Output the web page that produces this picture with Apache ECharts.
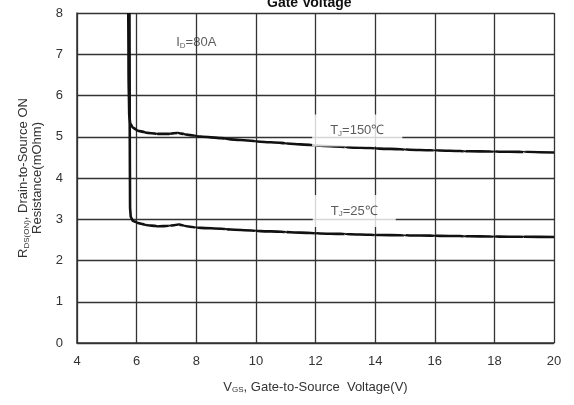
<!DOCTYPE html>
<html>
<head>
<meta charset="utf-8">
<script src="https://cdn.jsdelivr.net/npm/echarts@6/dist/echarts.min.js"></script>
<style>
  html, body { margin: 0; padding: 0; background: #fff; }
  #chart { width: 574px; height: 405px; }
</style>
</head>
<body>
<div id="chart"></div>
<script>
// Rds(on) vs Vgs, two junction temperatures
const vgs150 = [5.72, 5.73, 5.75, 5.78, 5.85, 6.0, 6.3, 6.7, 7.1, 7.4, 7.6, 8, 9, 10, 11, 12, 13, 14, 15, 16, 17, 18, 19, 20];
const rds150 = [8.0, 6.5, 5.55, 5.34, 5.24, 5.16, 5.1, 5.07, 5.07, 5.09, 5.06, 5.02, 4.95, 4.89, 4.84, 4.79, 4.75, 4.72, 4.69, 4.67, 4.65, 4.64, 4.63, 4.62];

const vgs25 = [5.76, 5.77, 5.78, 5.8, 5.86, 6.0, 6.3, 6.7, 7.1, 7.4, 7.6, 8, 9, 10, 11, 12, 13, 14, 15, 16, 17, 18, 19, 20];
const rds25 = [8.0, 5.0, 3.3, 3.07, 2.97, 2.92, 2.86, 2.83, 2.84, 2.87, 2.84, 2.8, 2.76, 2.72, 2.69, 2.66, 2.64, 2.62, 2.61, 2.6, 2.59, 2.58, 2.575, 2.57];

const xTicks = { min: 4, max: 20, step: 2 };
const yTicks = { min: 0, max: 8, step: 1 };

// annotation anchors in data units
const notes = [
  { txt: 'I{sub|D}=80A', at: [8.0, 7.28], boxed: false },
  { txt: 'T{sub|J}=150℃', at: [13.4, 5.15], boxed: true },
  { txt: 'T{sub|J}=25℃', at: [13.3, 3.2], boxed: true }
];

const FONT = '"Liberation Sans", Arial, sans-serif';
const rich = { sub: { fontSize: 8, verticalAlign: 'bottom', padding: [6, 0, 0, 0], color: '#333', fontFamily: FONT } };

const pairs = (xs, ys) => xs.map((x, i) => [x, ys[i]]);

const chart = echarts.init(document.getElementById('chart'), null, { renderer: 'canvas' });
chart.setOption({
  backgroundColor: '#fff',
  animation: false,
  title: {
    text: 'Gate Voltage', left: 262, top: -9,
    textStyle: { fontFamily: FONT, fontSize: 14, fontWeight: 'bold', color: '#111' }
  },
  grid: { left: 77, right: 20, top: 13, bottom: 62 },
  xAxis: {
    type: 'value', min: xTicks.min, max: xTicks.max, interval: xTicks.step,
    name: 'V{sub|GS}, Gate-to-Source  Voltage(V)', nameLocation: 'middle', nameGap: 37,
    nameTextStyle: { fontFamily: FONT, fontSize: 13, color: '#333', rich: rich },
    axisLine: { lineStyle: { color: '#333', width: 1.5 } },
    axisTick: { show: false },
    axisLabel: { fontFamily: FONT, fontSize: 13, color: '#333', margin: 12 },
    splitLine: { show: true, lineStyle: { color: '#333', width: 1.3 } }
  },
  yAxis: {
    type: 'value', min: yTicks.min, max: yTicks.max, interval: yTicks.step,
    name: 'R{sub|DS(ON)}, Drain-to-Source ON\nResistance(mOhm)', nameLocation: 'middle', nameGap: 27, nameRotate: 90,
    nameTextStyle: { fontFamily: FONT, fontSize: 13, color: '#333', lineHeight: 14, rich: rich },
    axisLine: { show: true, lineStyle: { color: '#333', width: 1.5 } },
    axisTick: { show: false },
    axisLabel: { fontFamily: FONT, fontSize: 13, color: '#333', margin: 14 },
    splitLine: { show: true, lineStyle: { color: '#333', width: 1.3 } }
  },
  series: [
    {
      name: 'Tj=150', type: 'line', data: pairs(vgs150, rds150), showSymbol: false,
      smooth: 0.25, smoothMonotone: 'y',
      lineStyle: { color: '#111', width: 2.6 }, z: 3
    },
    {
      name: 'Tj=25', type: 'line', data: pairs(vgs25, rds25), showSymbol: false,
      smooth: 0.25, smoothMonotone: 'y',
      lineStyle: { color: '#111', width: 2.6 }, z: 3
    },
    {
      type: 'scatter', symbolSize: 0, silent: true, z: 5,
      data: notes.map(n => ({
        value: n.at,
        label: {
          show: true, position: 'inside', formatter: n.txt,
          fontFamily: FONT, fontSize: 13, color: '#333', rich: rich,
          backgroundColor: n.boxed ? '#fff' : 'transparent',
          padding: n.boxed ? [9, 18, 9, 18] : 0
        }
      }))
    }
  ]
});
</script>
</body>
</html>
